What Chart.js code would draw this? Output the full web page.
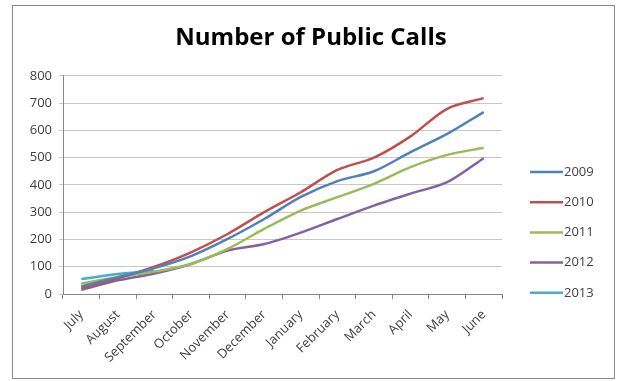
<!DOCTYPE html>
<html>
<head>
<meta charset="utf-8">
<script src="https://cdn.jsdelivr.net/npm/chart.js@4/dist/chart.umd.min.js"></script>
<style>
    html, body { margin: 0; padding: 0; background: #ffffff; }
    #wrap { position: relative; width: 618px; height: 381px; }
    #frame { position: absolute; left: 12px; top: 5px; width: 601px; height: 372px; border: 1px solid #8a8a8a; pointer-events: none; }
    canvas { position: absolute; left: 0; top: 0; }
</style>
</head>
<body>
<div id="wrap">
    <canvas id="calls_chart" width="618" height="381"></canvas>
    <div id="frame"></div>
</div>
<script>
const months = ["July", "August", "September", "October", "November", "December",
    "January", "February", "March", "April", "May", "June"];
const years = ["2009", "2010", "2011", "2012", "2013"];
const calls_2009 = [28, 62, 95, 139, 202, 275, 356, 414, 450, 520, 587, 667];
const calls_2010 = [22, 58, 100, 153, 220, 300, 373, 455, 500, 578, 679, 718];
const calls_2011 = [38, 62, 82, 110, 165, 239, 306, 355, 404, 465, 510, 536];
const calls_2012 = [15, 50, 75, 110, 159, 183, 225, 275, 324, 368, 410, 498];
const calls_2013 = [55, 73, 85, null, null, null, null, null, null, null, null, null];
const y_ticks = [0, 100, 200, 300, 400, 500, 600, 700, 800];

const colors = ["#4f81bd", "#c0504d", "#9bbb59", "#8064a2", "#4bacc6"];
const text_color = "#404040";

// legend on the right, one short line per series
const side_legend = {
    id: "side_legend",
    afterDraw(chart) {
        let ctx = chart.ctx;
        ctx.save();
        ctx.font = "13px 'Open Sans'";
        ctx.textBaseline = "middle";
        ctx.fillStyle = text_color;
        chart.data.datasets.forEach((ds, i) => {
            let y = 172 + i * 30.2;
            ctx.strokeStyle = ds.borderColor;
            ctx.lineWidth = ds.borderWidth;
            ctx.beginPath();
            ctx.moveTo(530, y);
            ctx.lineTo(563, y);
            ctx.stroke();
            ctx.fillText(ds.label, 564, y);
        });
        ctx.restore();
    }
};

const series = [calls_2009, calls_2010, calls_2011, calls_2012, calls_2013];

new Chart(document.getElementById("calls_chart"), {
    type: "line",
    data: {
        labels: months,
        datasets: series.map((values, i) => ({
            label: years[i],
            data: values,
            borderColor: colors[i],
            backgroundColor: colors[i],
            borderWidth: 2.5,
            pointRadius: 0,
            tension: 0.3,
            spanGaps: false,
        })),
    },
    options: {
        responsive: false,
        animation: false,
        layout: { padding: { left: 20, top: 5, right: 16, bottom: 5 } },
        plugins: {
            legend: { display: false },
            tooltip: { enabled: false },
            title: {
                display: true,
                text: "Number of Public Calls",
                color: "#000000",
                font: { family: "'Open Sans'", size: 24, weight: "bold" },
                padding: { top: 19, bottom: 23 },
            },
        },
        scales: {
            x: {
                offset: true,
                afterFit: (scale) => { scale.height = 82; },
                grid: { drawOnChartArea: false, offset: true, tickLength: 5, color: "#868686" },
                border: { color: "#868686", width: 1 },
                ticks: {
                    color: text_color,
                    font: { family: "'Open Sans'", size: 13 },
                    minRotation: 45,
                    maxRotation: 45,
                    padding: 8,
                },
            },
            y: {
                min: 0,
                max: 800,
                afterFit: (scale) => { scale.width = 43; },
                afterBuildTicks: (scale) => { scale.ticks = y_ticks.map((v) => ({ value: v })); },
                grid: { color: "#c8c8c8", tickLength: 4 },
                border: { color: "#868686", width: 1 },
                ticks: {
                    color: text_color,
                    font: { family: "'Open Sans'", size: 13 },
                    padding: 7,
                },
            },
            // empty strip on the right that holds the legend
            legend_space: {
                position: "right",
                display: true,
                grid: { display: false },
                border: { display: false },
                ticks: { display: false },
                afterFit: (scale) => { scale.width = 100; },
            },
        },
    },
    plugins: [side_legend],
});
</script>
</body>
</html>
